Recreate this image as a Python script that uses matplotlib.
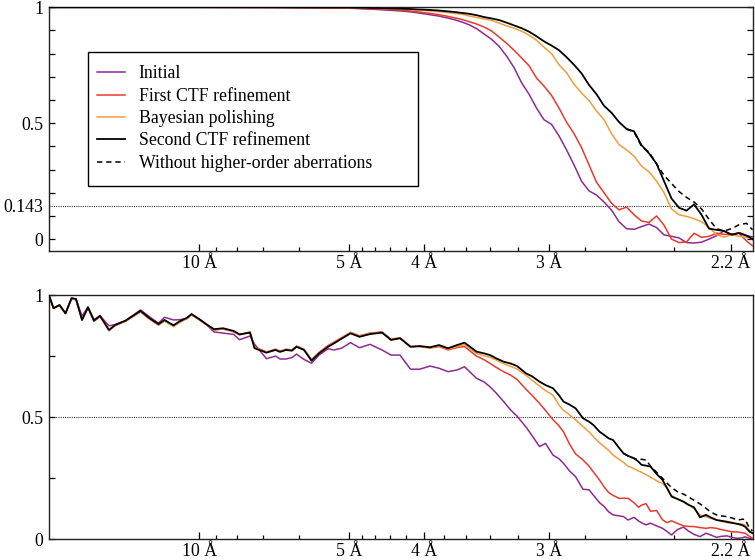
import numpy as np
import matplotlib
matplotlib.use("Agg")
import matplotlib.pyplot as plt
from matplotlib.lines import Line2D
from matplotlib.patches import Rectangle

plt.rcParams["font.family"] = ["Liberation Serif", "DejaVu Serif"]

# ---------------------------------------------------------------------------
# Data (spatial frequency in 1/Å, FSC values)
# ---------------------------------------------------------------------------

LABELS = ["Initial", "First CTF refinement", "Bayesian polishing",
          "Second CTF refinement", "Without higher-order aberrations"]

RES_MAJOR = [10, 5, 4, 3, 2.2]
RES_MAJOR_LABELS = ["10 Å", "5 Å", "4 Å", "3 Å", "2.2 Å"]
RES_MINOR = [9, 8, 7, 6, 4.8, 4.6, 4.4, 4.2, 3.8, 3.6, 3.4, 3.2,
             2.8, 2.6, 2.4]

# top panel: full FSC
S_TOP = [0.0, 0.05, 0.10, 0.15, 0.18,
         0.200, 0.205, 0.210, 0.215, 0.220, 0.225, 0.230, 0.235, 0.240, 0.245,
         0.250, 0.255, 0.260, 0.265, 0.270, 0.275, 0.280, 0.285, 0.290, 0.295,
         0.300, 0.305, 0.310, 0.315, 0.320, 0.325, 0.330, 0.335, 0.340, 0.345,
         0.350, 0.355, 0.360, 0.365, 0.370, 0.375, 0.380, 0.385, 0.390, 0.395,
         0.400, 0.405, 0.410, 0.415, 0.420, 0.425, 0.430, 0.435, 0.440, 0.445,
         0.450, 0.455, 0.460, 0.465, 0.469]

TOP_INITIAL = [1.0, 1.0, 1.0, 0.999, 0.998,
               0.996, 0.995, 0.993, 0.992, 0.990, 0.988, 0.986, 0.984, 0.981, 0.977,
               0.972, 0.967, 0.962, 0.955, 0.947, 0.937, 0.925, 0.908, 0.885, 0.862,
               0.832, 0.790, 0.740, 0.675, 0.625, 0.565, 0.515, 0.495, 0.445, 0.385,
               0.320, 0.250, 0.208, 0.190, 0.160, 0.125, 0.075, 0.045, 0.042, 0.054,
               0.065, 0.050, 0.018, 0.012, 0.005, -0.015, -0.017, -0.013, 0.000, 0.015,
               0.035, 0.019, 0.028, 0.015, 0.010]

TOP_CTF1 = [1.0, 1.0, 1.0, 0.999, 0.998,
            0.997, 0.996, 0.995, 0.994, 0.993, 0.992, 0.990, 0.988, 0.985, 0.981,
            0.977, 0.973, 0.968, 0.962, 0.955, 0.948, 0.938, 0.928, 0.915, 0.898,
            0.872, 0.845, 0.815, 0.782, 0.748, 0.695, 0.660, 0.620, 0.565, 0.505,
            0.455, 0.395, 0.320, 0.245, 0.200, 0.155, 0.126, 0.138, 0.105, 0.078,
            0.072, 0.100, 0.060, 0.000, -0.015, -0.012, 0.025, 0.008, 0.012, 0.026,
            0.020, 0.022, 0.025, -0.008, -0.029]

TOP_POLISH = [1.0, 1.0, 1.0, 1.0, 0.999,
              0.998, 0.998, 0.997, 0.997, 0.996, 0.995, 0.994, 0.993, 0.991, 0.989,
              0.987, 0.984, 0.981, 0.978, 0.974, 0.970, 0.963, 0.956, 0.950, 0.944,
              0.932, 0.920, 0.910, 0.897, 0.880, 0.858, 0.828, 0.800, 0.752, 0.718,
              0.668, 0.630, 0.598, 0.552, 0.515, 0.455, 0.408, 0.385, 0.358, 0.315,
              0.290, 0.250, 0.200, 0.130, 0.105, 0.098, 0.088, 0.075, 0.050, 0.020,
              0.008, 0.019, 0.012, 0.008, 0.000]

TOP_CTF2 = [1.0, 1.0, 1.0, 1.0, 0.999,
            0.999, 0.998, 0.998, 0.997, 0.997, 0.996, 0.995, 0.994, 0.993, 0.991,
            0.990, 0.988, 0.986, 0.983, 0.980, 0.976, 0.972, 0.966, 0.958, 0.952,
            0.945, 0.934, 0.922, 0.910, 0.895, 0.875, 0.853, 0.835, 0.815, 0.785,
            0.752, 0.715, 0.665, 0.625, 0.575, 0.545, 0.505, 0.475, 0.465, 0.405,
            0.370, 0.325, 0.250, 0.175, 0.135, 0.123, 0.150, 0.105, 0.045, 0.040,
            0.035, 0.019, 0.026, 0.015, 0.000]

# dashed curve sits under the black one until ~0.39 1/Å
S_TOP_NOHO = [0.385, 0.390, 0.395, 0.400, 0.405, 0.410, 0.415, 0.420, 0.425,
              0.430, 0.435, 0.440, 0.445, 0.450, 0.455, 0.460, 0.465, 0.469]
TOP_NOHO = [0.475, 0.462, 0.400, 0.375, 0.325, 0.275, 0.240, 0.205, 0.180,
            0.160, 0.130, 0.085, 0.045, 0.035, 0.045, 0.062, 0.068, 0.040]

# bottom panel
S_BOT = [0.000, 0.003, 0.007, 0.011, 0.015, 0.018, 0.022, 0.026, 0.030, 0.034,
         0.040, 0.044, 0.051, 0.061, 0.067, 0.073, 0.077, 0.083, 0.087, 0.092,
         0.095, 0.101, 0.105, 0.110, 0.116, 0.123, 0.127, 0.134, 0.137, 0.145,
         0.151, 0.154, 0.158, 0.162, 0.165, 0.170, 0.175, 0.180, 0.186, 0.190,
         0.195, 0.201, 0.207, 0.214, 0.222, 0.228, 0.234, 0.241, 0.247, 0.254,
         0.260, 0.266, 0.272, 0.277, 0.285, 0.290, 0.294, 0.298, 0.303, 0.308,
         0.312, 0.318, 0.322, 0.327, 0.331, 0.336, 0.340, 0.343, 0.347, 0.351,
         0.356, 0.360, 0.363, 0.367, 0.370, 0.373, 0.376, 0.380, 0.383, 0.386,
         0.390, 0.393, 0.395, 0.398, 0.401, 0.405, 0.409, 0.412, 0.415, 0.419,
         0.423, 0.426, 0.430, 0.434, 0.438, 0.441, 0.445, 0.448, 0.452, 0.455,
         0.459, 0.462, 0.464, 0.467, 0.469]

BOT_INITIAL = [1.000, 0.947, 0.960, 0.926, 0.988, 0.985, 0.915, 0.951, 0.900, 0.916,
               0.875, 0.880, 0.896, 0.940, 0.912, 0.885, 0.910, 0.899, 0.900, 0.905,
               0.923, 0.899, 0.880, 0.850, 0.845, 0.840, 0.818, 0.833, 0.800, 0.740,
               0.751, 0.739, 0.739, 0.745, 0.759, 0.737, 0.722, 0.755, 0.781, 0.776,
               0.783, 0.806, 0.785, 0.799, 0.776, 0.755, 0.755, 0.697, 0.697, 0.710,
               0.701, 0.687, 0.694, 0.707, 0.660, 0.645, 0.625, 0.600, 0.565, 0.528,
               0.505, 0.460, 0.425, 0.380, 0.393, 0.345, 0.330, 0.311, 0.280, 0.257,
               0.205, 0.203, 0.180, 0.150, 0.135, 0.113, 0.100, 0.096, 0.093, 0.079,
               0.090, 0.075, 0.068, 0.059, 0.066, 0.055, 0.045, 0.032, 0.018, 0.040,
               0.050, 0.035, 0.020, 0.011, 0.025, 0.018, 0.008, 0.012, 0.014, 0.008,
               0.004, 0.006, 0.010, 0.004, 0.002]

BOT_CTF1 = [1.000, 0.947, 0.960, 0.926, 0.985, 0.982, 0.899, 0.948, 0.893, 0.914,
            0.855, 0.876, 0.894, 0.932, 0.903, 0.878, 0.895, 0.873, 0.890, 0.905,
            0.920, 0.896, 0.879, 0.858, 0.862, 0.851, 0.838, 0.850, 0.788, 0.768,
            0.779, 0.771, 0.779, 0.776, 0.792, 0.779, 0.736, 0.766, 0.794, 0.808,
            0.826, 0.848, 0.834, 0.845, 0.850, 0.820, 0.826, 0.790, 0.790, 0.784,
            0.790, 0.776, 0.786, 0.790, 0.751, 0.736, 0.721, 0.705, 0.687, 0.672,
            0.655, 0.615, 0.590, 0.557, 0.528, 0.490, 0.465, 0.440, 0.390, 0.350,
            0.325, 0.300, 0.275, 0.243, 0.215, 0.192, 0.180, 0.168, 0.168, 0.168,
            0.150, 0.131, 0.140, 0.146, 0.115, 0.118, 0.080, 0.068, 0.076, 0.065,
            0.055, 0.053, 0.052, 0.048, 0.045, 0.048, 0.045, 0.040, 0.035, 0.031,
            0.030, 0.027, 0.025, 0.012, 0.004]

BOT_POLISH = [1.000, 0.947, 0.958, 0.925, 0.986, 0.983, 0.898, 0.949, 0.894, 0.914,
              0.856, 0.876, 0.894, 0.933, 0.903, 0.878, 0.895, 0.872, 0.889, 0.905,
              0.920, 0.897, 0.879, 0.859, 0.862, 0.852, 0.838, 0.848, 0.785, 0.767,
              0.777, 0.770, 0.777, 0.775, 0.790, 0.777, 0.734, 0.764, 0.791, 0.805,
              0.824, 0.846, 0.832, 0.843, 0.848, 0.818, 0.825, 0.789, 0.791, 0.785,
              0.793, 0.779, 0.790, 0.798, 0.762, 0.752, 0.746, 0.735, 0.720, 0.708,
              0.698, 0.672, 0.652, 0.628, 0.610, 0.590, 0.550, 0.528, 0.510, 0.490,
              0.462, 0.440, 0.420, 0.395, 0.380, 0.365, 0.345, 0.328, 0.315, 0.300,
              0.290, 0.280, 0.275, 0.265, 0.255, 0.240, 0.228, 0.210, 0.180, 0.165,
              0.155, 0.145, 0.125, 0.100, 0.092, 0.086, 0.080, 0.074, 0.068, 0.066,
              0.064, 0.063, 0.058, 0.035, 0.025]

BOT_CTF2 = [1.000, 0.947, 0.960, 0.926, 0.988, 0.985, 0.899, 0.951, 0.896, 0.916,
            0.858, 0.878, 0.896, 0.936, 0.906, 0.882, 0.899, 0.877, 0.893, 0.908,
            0.923, 0.899, 0.881, 0.861, 0.865, 0.854, 0.840, 0.847, 0.783, 0.765,
            0.776, 0.768, 0.776, 0.773, 0.789, 0.776, 0.732, 0.762, 0.789, 0.803,
            0.822, 0.844, 0.830, 0.841, 0.847, 0.817, 0.824, 0.789, 0.792, 0.787,
            0.796, 0.783, 0.796, 0.806, 0.769, 0.762, 0.755, 0.742, 0.728, 0.720,
            0.710, 0.680, 0.668, 0.646, 0.632, 0.619, 0.590, 0.564, 0.552, 0.537,
            0.496, 0.482, 0.468, 0.441, 0.428, 0.414, 0.407, 0.375, 0.352, 0.342,
            0.332, 0.318, 0.305, 0.302, 0.298, 0.268, 0.243, 0.210, 0.175, 0.165,
            0.154, 0.142, 0.131, 0.090, 0.100, 0.090, 0.079, 0.076, 0.072, 0.068,
            0.063, 0.058, 0.052, 0.031, 0.025]

S_BOT_NOHO = [0.383, 0.386, 0.390, 0.393, 0.395, 0.398, 0.401, 0.405, 0.409,
              0.412, 0.415, 0.419, 0.423, 0.426, 0.430, 0.434, 0.438, 0.441,
              0.445, 0.448, 0.452, 0.455, 0.459, 0.462, 0.464, 0.467, 0.469]
BOT_NOHO = [0.352, 0.342, 0.332, 0.325, 0.328, 0.325, 0.300, 0.275, 0.250,
            0.230, 0.212, 0.195, 0.185, 0.175, 0.160, 0.145, 0.127, 0.112,
            0.100, 0.096, 0.093, 0.088, 0.079, 0.082, 0.082, 0.045, 0.035]

COLORS = ["#8E2A92", "#E8392C", "#F39C3A", "black", "black"]
DASH = (0, (3.5, 2.5))
X_MAX = 0.4693
FS = 12.8


def style_axis(ax, ylim, major, major_labels, minor, right_ticks):
    ax.set_xlim(0, X_MAX)
    ax.set_ylim(*ylim)
    ax.set_xticks([1.0 / r for r in RES_MAJOR])
    ax.set_xticklabels(RES_MAJOR_LABELS)
    ax.set_xticks([1.0 / r for r in RES_MINOR], minor=True)
    ax.set_yticks(major)
    ax.set_yticklabels(major_labels)
    ax.set_yticks(minor, minor=True)
    ax.tick_params(axis="x", which="major", direction="in", length=5,
                   width=0.9, pad=3, labelsize=FS, top=False)
    ax.tick_params(axis="x", which="minor", direction="in", length=2.6,
                   width=0.9, top=False)
    ax.tick_params(axis="y", which="both", direction="in", length=4.5,
                   width=0.9, pad=4, labelsize=FS, right=right_ticks)
    for sp in ax.spines.values():
        sp.set_linewidth(1.0)
        sp.set_color("#222222")


fig = plt.figure(figsize=(7.55, 5.6), dpi=100)
ax1 = fig.add_axes([49 / 755, 1 - 250.7 / 560, 704 / 755, 243.4 / 560])
ax2 = fig.add_axes([49 / 755, 1 - 539.3 / 560, 704 / 755, 244 / 560])

# --- top panel ---
ax1.axhline(0.143, color="#333333", lw=0.8, ls=(0, (1, 1)), zorder=1)
for vals, c, z in zip([TOP_INITIAL, TOP_CTF1, TOP_POLISH],
                      COLORS[:3], [2, 3, 4]):
    ax1.plot(S_TOP, vals, color=c, lw=1.1, zorder=z)
ax1.plot(S_TOP_NOHO, TOP_NOHO, color="black", lw=1.1, ls=DASH, zorder=5)
ax1.plot(S_TOP, TOP_CTF2, color="black", lw=1.3, zorder=6)
style_axis(ax1, (-0.05, 1.0), [0, 0.143, 0.5, 1], ["0", "0.143", "0.5", "1"],
           [0.1, 0.2, 0.3, 0.4, 0.6, 0.7, 0.8, 0.9], True)
t = ax1.yaxis.get_major_ticks()[1]
t.tick1line.set_visible(False)
t.tick2line.set_visible(False)

# legend box is wider than its entries, so draw the frame separately
ax1.add_patch(Rectangle((0.0554, 0.266), 0.4684, 0.549, transform=ax1.transAxes,
                        facecolor="white", edgecolor="black", lw=1.0, zorder=7))
handles = [Line2D([], [], color=COLORS[0], lw=1.1),
           Line2D([], [], color=COLORS[1], lw=1.1),
           Line2D([], [], color=COLORS[2], lw=1.1),
           Line2D([], [], color="black", lw=1.3),
           Line2D([], [], color="black", lw=1.1, ls=DASH)]
leg = ax1.legend(handles, LABELS, loc="upper left",
                 bbox_to_anchor=(0.0682, 0.761), borderaxespad=0,
                 fontsize=FS, frameon=False, handlelength=1.6,
                 handletextpad=0.75, labelspacing=0.30, borderpad=0)
leg.set_zorder(8)

# --- bottom panel ---
ax2.axhline(0.5, color="#333333", lw=0.8, ls=(0, (1, 1)), zorder=1)
for vals, c, z in zip([BOT_INITIAL, BOT_CTF1, BOT_POLISH],
                      COLORS[:3], [2, 3, 4]):
    ax2.plot(S_BOT, vals, color=c, lw=1.1, zorder=z)
ax2.plot(S_BOT_NOHO, BOT_NOHO, color="black", lw=1.1, ls=DASH, zorder=5)
ax2.plot(S_BOT, BOT_CTF2, color="black", lw=1.3, zorder=6)
style_axis(ax2, (0, 1.0), [0, 0.5, 1], ["0", "0.5", "1"], [0.25, 0.75], False)

fig.savefig("out.png", dpi=100)
